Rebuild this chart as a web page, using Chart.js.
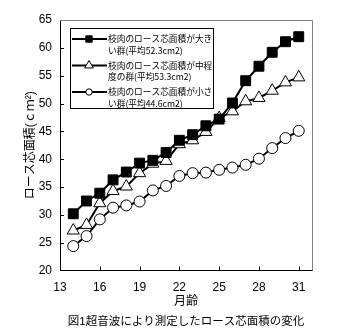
<!DOCTYPE html>
<html>
<head>
<meta charset="utf-8">
<script src="https://cdn.jsdelivr.net/npm/chart.js@4/dist/chart.umd.min.js"></script>
<style>
  html, body { margin: 0; padding: 0; background: #fff; }
  canvas { display: block; }
</style>
</head>
<body>
<canvas id="chart" width="338" height="334"></canvas>
<script>
// months of age (x) and loin eye area in cm2 (y)
const months = [14, 15, 16, 17, 18, 19, 20, 21, 22, 23, 24, 25, 26, 27, 28, 29, 30, 31];
const largeGroup = [30.2, 32.5, 33.9, 36.3, 37.7, 39.3, 39.8, 41.2, 43.4, 44.4, 46.0, 47.2, 50.1, 54.1, 56.7, 59.2, 61.1, 62.0];
const middleGroup = [27.2, 28.2, 32.1, 34.3, 35.1, 37.5, 39.2, 39.7, 42.7, 43.4, 44.9, 47.4, 48.6, 50.4, 51.0, 52.3, 53.8, 54.7];
const smallGroup = [24.4, 26.2, 29.2, 31.3, 31.7, 32.4, 34.4, 35.2, 37.0, 37.5, 37.6, 38.1, 38.5, 39.0, 40.1, 42.0, 43.8, 45.1];

const xTicks = [13, 16, 19, 22, 25, 28, 31];
const seriesLabels = [
  '枝肉のロース芯面積が大き\nい群(平均52.3cm2)',
  '枝肉のロース芯面積が中程\n度の群(平均53.3cm2)',
  '枝肉のロース芯面積が小さ\nい群(平均44.6cm2)'
];
const legendRadius = [4.5, 5, 3.2];

const toPoints = vals => vals.map((v, i) => ({ x: months[i], y: v }));

Chart.defaults.font.family = "'Liberation Sans', 'Noto Sans CJK JP', sans-serif";
Chart.defaults.color = '#000';

// plot frame (grey top/right) and inward tick marks
const framePlugin = {
  id: 'frame',
  beforeDatasetsDraw(chart) {
    const { ctx, chartArea: a, scales: { x, y } } = chart;
    ctx.save();
    ctx.lineWidth = 1;
    ctx.strokeStyle = '#808080';
    ctx.beginPath();
    ctx.moveTo(a.left, a.top + 0.5);
    ctx.lineTo(a.right + 0.5, a.top + 0.5);
    ctx.lineTo(a.right + 0.5, a.bottom);
    ctx.stroke();

    ctx.strokeStyle = '#000';
    ctx.beginPath();
    x.ticks.forEach(t => {
      const px = Math.round(x.getPixelForValue(t.value)) + 0.5;
      if (px > a.left + 2) {
        ctx.moveTo(px, a.bottom);
        ctx.lineTo(px, a.bottom - 4);
      }
    });
    y.ticks.forEach(t => {
      const py = Math.round(y.getPixelForValue(t.value)) + 0.5;
      if (py > a.top + 2 && py < a.bottom - 2) {
        ctx.moveTo(a.left, py);
        ctx.lineTo(a.left + 4, py);
      }
    });
    ctx.stroke();
    ctx.restore();
  }
};

// boxed legend inside the plot, two text lines per entry
const boxLegend = {
  id: 'boxLegend',
  afterDatasetsDraw(chart) {
    const { ctx, chartArea: a } = chart;
    const left = a.left + 10, top = a.top + 8, w = 143, h = 80;
    ctx.save();
    ctx.fillStyle = '#fff';
    ctx.fillRect(left, top, w, h);
    ctx.strokeStyle = '#000';
    ctx.lineWidth = 1;
    ctx.strokeRect(left + 0.5, top + 0.5, w, h);
    ctx.font = "8.7px 'Noto Sans CJK JP'";
    ctx.textBaseline = 'middle';

    chart.data.datasets.forEach((ds, i) => {
      const yy = top + 11 + i * 26.5;
      ctx.strokeStyle = '#000';
      ctx.lineWidth = 2;
      ctx.beginPath();
      ctx.moveTo(left + 2, yy);
      ctx.lineTo(left + 37, yy);
      ctx.stroke();

      ctx.lineWidth = 1;
      ctx.fillStyle = ds.pointBackgroundColor;
      ctx.strokeStyle = ds.pointBorderColor;
      Chart.helpers.drawPoint(ctx, { pointStyle: ds.pointStyle, radius: legendRadius[i], borderWidth: 1, rotation: 0 }, left + 19, yy);

      ctx.fillStyle = '#000';
      ds.label.split('\n').forEach((line, k) => {
        ctx.fillText(line, left + 38, yy + k * 11.5);
      });
    });
    ctx.restore();
  }
};

const makeSeries = (label, data, style, radius, fill) => ({
  label: label,
  data: toPoints(data),
  borderColor: '#000',
  borderWidth: 2,
  tension: 0,
  pointStyle: style,
  pointRadius: radius,
  pointBackgroundColor: fill,
  pointBorderColor: '#000',
  pointBorderWidth: 1
});

new Chart(document.getElementById('chart'), {
  type: 'line',
  data: {
    datasets: [
      makeSeries(seriesLabels[0], largeGroup, 'rect', 7, '#000'),
      makeSeries(seriesLabels[1], middleGroup, 'triangle', 7, '#fff'),
      makeSeries(seriesLabels[2], smallGroup, 'circle', 5.5, '#fff')
    ]
  },
  options: {
    responsive: false,
    animation: false,
    devicePixelRatio: 1,
    layout: { padding: { top: 20, right: 26, left: 0, bottom: 0 } },
    scales: {
      x: {
        type: 'linear',
        min: 13,
        max: 32,
        afterBuildTicks: scale => { scale.ticks = xTicks.map(v => ({ value: v })); },
        afterFit: scale => { scale.height = 41.6; },
        grid: { display: false, drawTicks: false },
        border: { display: true, color: '#000', width: 1 },
        ticks: { padding: 10, font: { size: 12 } },
        title: { display: true, text: '月齢', font: { size: 12 }, padding: { top: 0, bottom: 3.4 } }
      },
      y: {
        min: 20,
        max: 65,
        afterFit: scale => { scale.width = 60; },
        grid: { display: false, drawTicks: false },
        border: { display: true, color: '#000', width: 1 },
        ticks: { stepSize: 5, padding: 8, font: { size: 12 } },
        title: { display: true, text: 'ロース芯面積(ｃｍ²)', font: { size: 12 }, padding: { top: 23, bottom: 0 } }
      }
    },
    plugins: {
      legend: { display: false },
      tooltip: { enabled: false },
      title: {
        display: true,
        position: 'bottom',
        fullSize: false,
        text: '図1超音波により測定したロース芯面積の変化',
        font: { size: 11.5, weight: 'normal' },
        padding: { top: 3, bottom: 5 }
      }
    }
  },
  plugins: [framePlugin, boxLegend]
});
</script>
</body>
</html>
